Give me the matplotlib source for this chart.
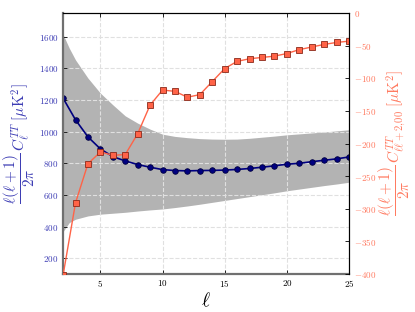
import numpy as np
import matplotlib
matplotlib.use("Agg")
import matplotlib.pyplot as plt
from matplotlib.ticker import FuncFormatter

plt.rcParams['mathtext.fontset'] = 'cm'
plt.rcParams['font.family'] = 'serif'

# multipoles
ell = np.arange(2, 26)

# C_l^TT (left axis, muK^2)
cl_tt = [1212, 1075, 967, 891, 842, 815, 792, 775, 760, 754, 752, 754,
         755, 757, 761, 767, 775, 784, 794, 800, 810, 819, 828, 840]

# C_{l l+2,00}^TT (right axis, muK^2)
cl_off = [-402, -291, -231, -213, -218, -217, -185, -141, -118, -120, -129, -125,
          -105, -85, -74, -70, -68, -66, -62, -56, -52, -48, -45, -43]

# cosmic variance band (left axis)
ell_band = [2, 2.5, 3, 4, 5, 6, 7, 8, 9, 10, 11, 12, 13, 14, 15, 16, 17, 18,
            19, 20, 21, 22, 23, 24, 25]
band_hi = [1615, 1528, 1454, 1339, 1244, 1170, 1100, 1054, 1016, 984, 970, 962,
           956, 953, 952, 953, 958, 965, 972, 980, 986, 992, 998, 1005, 1012]
band_lo = [368, 425, 446, 467, 478, 484, 490, 498, 505, 511, 520, 530, 541,
           553, 565, 577, 589, 601, 613, 626, 637, 648, 659, 669, 680]

left_ticks = [200, 400, 600, 800, 1000, 1200, 1400, 1600]
right_ticks = [0, -50, -100, -150, -200, -250, -300, -350, -400]
x_ticks = [5, 10, 15, 20, 25]

blue_lab = '#3c3cb4'
orange_lab = '#ff7a60'

fig = plt.figure(figsize=(4.15, 3.12), dpi=100)
ax = fig.add_axes([0.152, 0.122, 0.689, 0.836])

ax.fill_between(ell_band, band_lo, band_hi, color='#b3b3b3', lw=0, zorder=0.5)
ax.plot(ell, cl_tt, '-o', color='#000080', ms=4, lw=1.2, mec='#000040', mew=0.6, zorder=2)

ax.set_xlim(2, 25)
ax.set_ylim(100, 1750)
ax.set_xticks(x_ticks)
ax.set_yticks(left_ticks)
ax.set_axisbelow('line')
ax.grid(True, ls='--', color='#e0e0e0', lw=0.8)

fmt = FuncFormatter(lambda v, p: r'$%d$' % v)
ax.xaxis.set_major_formatter(fmt)
ax.yaxis.set_major_formatter(fmt)
ax.tick_params(axis='both', direction='in', length=3, width=0.6, labelsize=6.5)
ax.tick_params(axis='x', top=True, pad=3)
ax.tick_params(axis='y', labelcolor=blue_lab)
for s in ['left', 'bottom']:
    ax.spines[s].set_color('#707070')
    ax.spines[s].set_linewidth(1.6)

ax.set_xlabel(r'$\ell$', fontsize=14, labelpad=2)
ax.set_ylabel(r'$\dfrac{\ell(\ell+1)}{2\pi}\,C_\ell^{TT}\;[\mu{\rm K}^2]$',
              fontsize=11, color=blue_lab, labelpad=1)

ax2 = ax.twinx()
ax2.plot(ell, cl_off, '-s', color='#ff6347', ms=4, lw=1.0, mfc='#ff6347',
         mec='#8b2a1a', mew=0.6, clip_on=True)
ax2.set_ylim(-400, 0)
ax2.set_yticks(right_ticks)
ax2.yaxis.set_major_formatter(fmt)
ax2.tick_params(axis='y', direction='in', length=3, width=0.6, labelsize=6.5,
                labelcolor=orange_lab)
ax2.spines['left'].set_visible(False)
ax2.spines['bottom'].set_visible(False)
ax2.set_ylabel(r'$\dfrac{\ell(\ell+1)}{2\pi}\,C_{\ell\ell+2{,}00}^{TT}\;[\mu{\rm K}^2]$',
               fontsize=11, color=orange_lab, labelpad=0)

fig.savefig('out.png', dpi=100)
